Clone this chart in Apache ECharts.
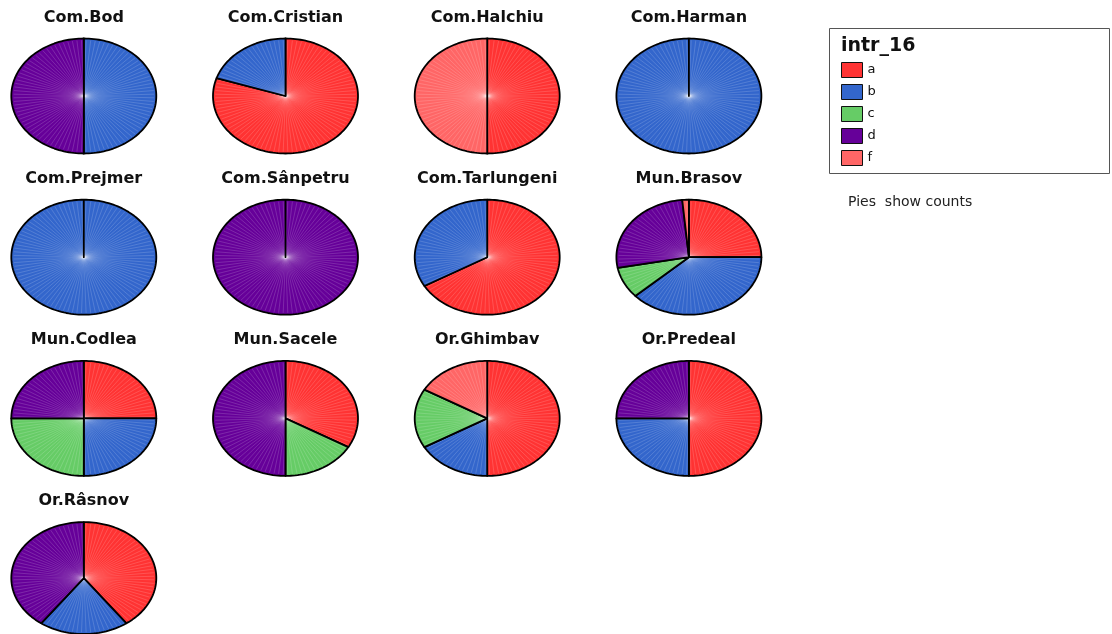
<!DOCTYPE html>
<html>
<head>
<meta charset="utf-8">
<script src="https://cdn.jsdelivr.net/npm/echarts@6/dist/echarts.min.js"></script>
<style>html,body{margin:0;padding:0;background:#fff}#main{width:1112px;height:634px}</style>
</head>
<body>
<div id="main"></div>
<script>
// ---- data ----
const categories = ['a', 'b', 'c', 'd', 'f'];
const pieNames = ['Com.Bod', 'Com.Cristian', 'Com.Halchiu', 'Com.Harman',
  'Com.Prejmer', 'Com.Sânpetru', 'Com.Tarlungeni', 'Mun.Brasov',
  'Mun.Codlea', 'Mun.Sacele', 'Or.Ghimbav', 'Or.Predeal', 'Or.Râsnov'];
const countA = [0, 4, 1, 0, 0, 0, 2, 17, 1, 2, 3, 2, 2];
const countB = [1, 1, 0, 1, 1, 0, 1, 26, 1, 0, 1, 1, 1];
const countC = [0, 0, 0, 0, 0, 0, 0, 6, 1, 1, 1, 0, 0];
const countD = [1, 0, 0, 0, 0, 1, 0, 18, 1, 3, 0, 1, 2];
const countF = [0, 0, 1, 0, 0, 0, 0, 1, 0, 0, 1, 0, 0];
const legendTitle = 'intr_16';
const noteText = 'Pies  show counts';

// ---- styling / layout ----
const colors = { a: '#ff3333', b: '#3366cc', c: '#66cc66', d: '#660099', f: '#ff6666' };
const counts = { a: countA, b: countB, c: countC, d: countD, f: countF };
const cx0 = 83.8, colStep = 201.7, cy0 = 96, rowStep = 161.2, rx = 72.5, ry = 57.5;

const grids = [], xAxes = [], yAxes = [], series = [], graphics = [];
pieNames.forEach((name, i) => {
  const col = i % 4, row = Math.floor(i / 4);
  const cx = cx0 + col * colStep, cy = cy0 + row * rowStep;
  grids.push({ left: cx - rx, top: cy - ry, width: 2 * rx, height: 2 * ry, containLabel: false });
  xAxes.push({ gridIndex: i, type: 'value', min: -1, max: 1, show: false });
  yAxes.push({ gridIndex: i, type: 'value', min: -1, max: 1, show: false });
  graphics.push({
    type: 'text', x: cx, y: 17.5 + row * rowStep,
    style: { text: name, fontFamily: 'DejaVu Sans', fontWeight: 'bold', fontSize: 16,
      fill: '#111', align: 'center', verticalAlign: 'middle' }
  });
  const total = categories.reduce((s, k) => s + counts[k][i], 0);
  let cum = 0;
  categories.forEach(k => {
    const v = counts[k][i];
    if (v > 0) {
      series.push({
        type: 'custom', name: k, xAxisIndex: i, yAxisIndex: i,
        itemStyle: { color: colors[k] },
        data: [[cum, v, total]],
        renderItem: (params, api) => {
          const s = api.value(0), val = api.value(1), tot = api.value(2);
          const t0 = s / tot * Math.PI * 2, t1 = (s + val) / tot * Math.PI * 2;
          const n = Math.max(2, Math.ceil((t1 - t0) / (Math.PI / 90)));
          const c = api.coord([0, 0]);
          const pts = [c];
          for (let j = 0; j <= n; j++) {
            const t = t0 + (t1 - t0) * j / n;
            pts.push(api.coord([Math.sin(t), Math.cos(t)]));
          }
          const children = [{
            type: 'polygon', shape: { points: pts },
            style: { fill: colors[k], stroke: null }
          }];
          const step = Math.PI * 2 / 96;
          for (let t = Math.ceil(t0 / step) * step + step / 2; t < t1; t += step) {
            const p = api.coord([Math.sin(t) * 0.97, Math.cos(t) * 0.97]);
            children.push({ type: 'line', shape: { x1: c[0], y1: c[1], x2: p[0], y2: p[1] },
              style: { stroke: 'rgba(255,255,255,0.2)', lineWidth: 0.8 } });
          }
          children.push({ type: 'polygon', shape: { points: pts },
            style: { fill: null, stroke: '#000', lineWidth: 1.8, lineJoin: 'round' } });
          return { type: 'group', children };
        }
      });
    }
    cum += v;
  });
});

// legend box + title + note
graphics.push({ type: 'rect', shape: { x: 829.5, y: 28.5, width: 280, height: 145 },
  style: { fill: '#fff', stroke: '#555', lineWidth: 1 }, z: -1 });
graphics.push({ type: 'text', x: 841, y: 46, style: { text: legendTitle, fontFamily: 'DejaVu Sans',
  fontWeight: 'bold', fontSize: 19, fill: '#111', verticalAlign: 'middle' } });
graphics.push({ type: 'text', x: 848, y: 202, style: { text: noteText, fontFamily: 'DejaVu Sans',
  fontSize: 14, fill: '#222', verticalAlign: 'middle' } });

const chart = echarts.init(document.getElementById('main'), null, { renderer: 'canvas' });
chart.setOption({
  animation: false,
  backgroundColor: '#fff',
  grid: grids, xAxis: xAxes, yAxis: yAxes,
  legend: {
    data: categories, orient: 'vertical', left: 841, top: 62, padding: 0,
    icon: 'rect', itemWidth: 21, itemHeight: 15, itemGap: 6,
    itemStyle: { borderColor: '#111', borderWidth: 1 },
    textStyle: { fontFamily: 'DejaVu Sans', fontSize: 13, lineHeight: 15, color: '#111' },
    selectedMode: false
  },
  graphic: { elements: graphics },
  series
});
</script>
</body>
</html>
